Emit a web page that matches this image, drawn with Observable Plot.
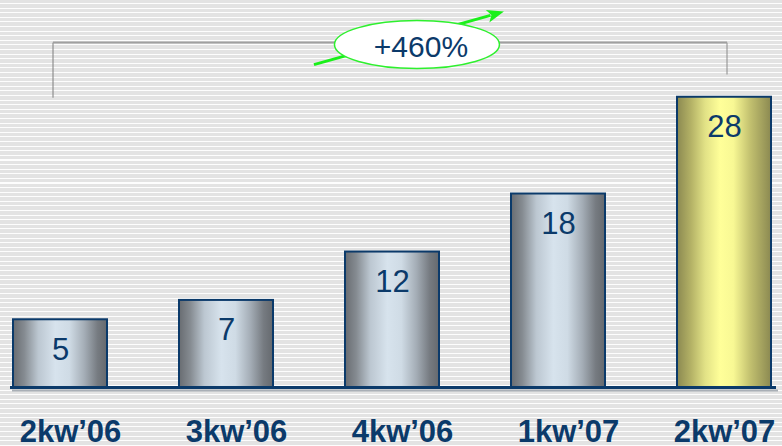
<!DOCTYPE html>
<html><head><meta charset="utf-8">
<script src="https://cdn.jsdelivr.net/npm/d3@7"></script>
<script src="https://cdn.jsdelivr.net/npm/@observablehq/plot@0.6"></script>
<style>
html,body{margin:0;padding:0;width:782px;height:446px;overflow:hidden;}
body{background:repeating-linear-gradient(to bottom,#e3e3e3 0px,#e3e3e3 3.1px,#fdfdfd 3.1px,#fdfdfd 4.1px,#e3e3e3 4.1px,#e3e3e3 4.6px);}
#chart svg{display:block;}
</style></head><body><div id="chart"></div>
<script>
// ---- data ----
const quarters = ["2kw’06", "3kw’06", "4kw’06", "1kw’07", "2kw’07"];
const values = [5, 7, 12, 18, 28];
const highlighted = [false, false, false, false, true];
const growthLabel = "+460%";
const baseValue = -2;              // value axis does not start at zero in the source
const bracketLevels = [27.9, 33.6, 30.3]; // left end, top, right end (value units)

const data = quarters.map((q, i) => ({q, v: values[i], hi: highlighted[i]}));
const navy = "#0b3a6a";
const font = "'Liberation Sans', Arial, sans-serif";

function defsMark() {
  const defs = d3.create("svg:defs");
  const steel = defs.append("linearGradient").attr("id", "gradSteel").attr("x1", "0").attr("x2", "1").attr("y1", "0").attr("y2", "0");
  [[0, "#686c71"], [0.12, "#858b91"], [0.27, "#bcc7d1"], [0.45, "#d7e3ed"], [0.6, "#cfdbe5"], [0.76, "#a4adb6"], [0.9, "#767b81"], [1, "#65696e"]]
    .forEach(([o, c]) => steel.append("stop").attr("offset", o).attr("stop-color", c));
  const yel = defs.append("linearGradient").attr("id", "gradYellow").attr("x1", "0").attr("x2", "1").attr("y1", "0").attr("y2", "0");
  [[0, "#8b8951"], [0.15, "#b4b266"], [0.3, "#e2e286"], [0.46, "#ffff99"], [0.6, "#f8f894"], [0.78, "#c2c06f"], [1, "#8b8951"]]
    .forEach(([o, c]) => yel.append("stop").attr("offset", o).attr("stop-color", c));
  return defs.node();
}

function growthAnnotation(index, scales, vals, dims) {
  const x = scales.x, y = scales.y;
  const last = quarters[quarters.length - 1];
  let bw = typeof x.bandwidth === "function" ? x.bandwidth() : x.bandwidth;
  if (!bw) bw = (x(last) - x(quarters[0])) / (quarters.length - 1) * (1 - 0.4346);
  // band scale with paddingOuter 0: if x() gives band starts, the first sits at the left margin
  const off = (x(quarters[0]) - dims.marginLeft) < bw / 4 ? bw / 2 : 0;
  const cx = (c) => x(c) + off;
  const xl = cx(quarters[0]) - 7, xr = cx(last) + 3;
  const yl = y(bracketLevels[0]), yt = y(bracketLevels[1]), yr = y(bracketLevels[2]);
  const g = d3.create("svg:g");
  g.append("line").attr("x1", xl).attr("x2", xl).attr("y1", yt).attr("y2", yl).attr("stroke", "#7d7d7d").attr("stroke-width", 1);
  g.append("line").attr("x1", xr).attr("x2", xr).attr("y1", yt).attr("y2", yr).attr("stroke", "#8a8a8a").attr("stroke-width", 1);
  g.append("line").attr("x1", xl).attr("x2", xr).attr("y1", yt).attr("y2", yt).attr("stroke", "#a0a0a0").attr("stroke-width", 2);
  const ex = xl + 0.54 * (xr - xl), ey = yt + 2;
  // arrow
  const sx = ex - 103, sy = ey + 20, tx = ex + 87, ty = ey - 33;
  const len = Math.hypot(tx - sx, ty - sy), ux = (tx - sx) / len, uy = (ty - sy) / len;
  const bx = tx - 17 * ux, by = ty - 17 * uy, nx = -uy, ny = ux;
  g.append("line").attr("x1", sx).attr("y1", sy).attr("x2", bx + 3 * ux).attr("y2", by + 3 * uy).attr("stroke", "#1af01a").attr("stroke-width", 3);
  g.append("path").attr("d", `M${tx},${ty}L${bx + 6.5 * nx},${by + 6.5 * ny}L${bx + 4 * ux},${by + 4 * uy}L${bx - 6.5 * nx},${by - 6.5 * ny}Z`).attr("fill", "#1af01a");
  g.append("ellipse").attr("cx", ex).attr("cy", ey).attr("rx", 82.5).attr("ry", 24).attr("fill", "#ffffff").attr("stroke", "#2ef02e").attr("stroke-width", 1.5);
  g.append("text").attr("x", ex + 4).attr("y", ey + 12).attr("text-anchor", "middle").attr("font-family", font).attr("font-size", 30).attr("fill", navy).text(growthLabel);
  return g.node();
}

const plot = Plot.plot({
  width: 782,
  height: 446,
  marginTop: 0,
  marginBottom: 59,
  marginLeft: 12,
  marginRight: 11,
  style: {background: "transparent", fontFamily: font, overflow: "visible"},
  x: {domain: quarters, paddingInner: 0.4346, paddingOuter: 0, label: null},
  y: {domain: [baseValue, 38], axis: null},
  color: {type: "identity"},
  marks: [
    defsMark,
    Plot.ruleY([baseValue], {stroke: "#a9afb6", strokeWidth: 2, dy: 3, dx: 2, insetLeft: -2, insetRight: -5}),
    Plot.barY(data, {x: "q", y1: baseValue, y2: "v", fill: d => d.hi ? "url(#gradYellow)" : "url(#gradSteel)", stroke: navy, strokeWidth: 2}),
    Plot.ruleY([baseValue], {stroke: navy, strokeWidth: 3, insetLeft: -2, insetRight: -5}),
    Plot.text(data, {x: "q", y: "v", text: d => String(d.v), dy: 40, lineAnchor: "bottom", fontSize: 31, fill: navy}),
    Plot.axisX(quarters.slice(0, 4), {tickSize: 0, tickPadding: 32, dx: 10, fontSize: 31, fontWeight: "bold", fill: navy, label: null}),
    Plot.axisX(quarters.slice(4), {tickSize: 0, tickPadding: 32, dx: 0, fontSize: 31, fontWeight: "bold", fill: navy, label: null}),
    growthAnnotation
  ]
});
document.getElementById("chart").appendChild(plot);
</script>
</body></html>
